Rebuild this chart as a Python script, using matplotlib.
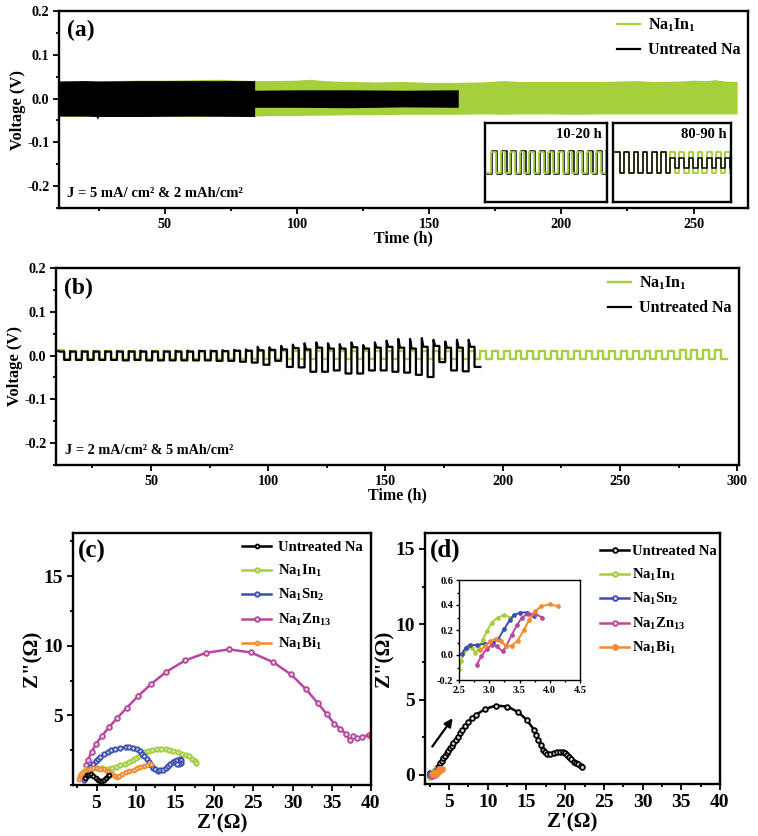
import matplotlib
matplotlib.use("Agg")
import matplotlib.pyplot as plt
from matplotlib.ticker import MultipleLocator

plt.rcParams['font.family'] = ['Liberation Serif', 'DejaVu Serif']
plt.rcParams['font.weight'] = 'bold'
plt.rcParams['axes.labelweight'] = 'bold'
plt.rcParams['mathtext.fontset'] = 'custom'
plt.rcParams['mathtext.bf'] = 'Liberation Serif:bold'
plt.rcParams['mathtext.rm'] = 'Liberation Serif:bold'
plt.rcParams['mathtext.default'] = 'bf'

W, H = 758, 836
GREEN = '#A5CF3B'
BLUE = '#3B50B0'
MAGENTA = '#B8479F'
ORANGE = '#F58A2E'
BLACK = '#000000'

# panel a, envelope of the cycling band
a_green_t = [10, 20, 30, 40, 50, 60, 70, 80, 84, 90, 100, 105, 110, 120, 130, 140, 150, 160, 170, 178, 185, 195, 205, 215, 228, 235, 245, 250, 255, 258, 262, 266.5]
a_green_top = [.040, .041, .041, .042, .042, .043, .044, .042, .041, .041, .042, .044, .041, .039, .038, .039, .037, .037, .038, .041, .039, .039, .039, .039, .041, .039, .040, .042, .041, .043, .040, .039]
a_green_bot = [-.040, -.041, -.040, -.041, -.040, -.041, -.040, -.040, -.040, -.039, -.039, -.038, -.038, -.037, -.037, -.036, -.036, -.036, -.035, -.036, -.035, -.035, -.036, -.035, -.035, -.035, -.035, -.035, -.035, -.035, -.035, -.035]
a_black_t = [10, 20, 24, 24.5, 25, 40, 60, 84, 84, 100, 120, 140, 161]
a_black_top = [.040, .041, .040, .040, .040, .041, .041, .041, .019, .020, .020, .019, .020]
a_black_bot = [-.040, -.040, -.041, -.047, -.041, -.041, -.040, -.041, -.020, -.020, -.021, -.019, -.020]

# panel a, insets (half cycle edges and voltages)
ins1_t = [10.0, 10.4, 10.8, 11.2, 11.6, 12.0, 12.4, 12.8, 13.2, 13.6, 14.0, 14.4, 14.8, 15.2, 15.6, 16.0, 16.4, 16.8, 17.2, 17.6, 18.0, 18.4, 18.8, 19.2, 19.6, 20.0]
ins1_green = [-.04, .04, -.04, .04, -.04, .04, -.04, .04, -.04, .04, -.04, .04, -.04, .04, -.04, .04, -.04, .04, -.04, .04, -.04, .04, -.04, .04, -.04, .04]
ins1_black_t = [10.1, 10.5, 10.9, 11.3, 11.7, 12.1, 12.5, 12.9, 13.3, 13.7, 14.1, 14.5, 14.9, 15.3, 15.7, 16.1, 16.5, 16.9, 17.3, 17.7, 18.1, 18.5, 18.9, 19.3, 19.7, 20.0]
ins1_black = [-.043, .041, -.043, .041, -.043, .041, -.043, .041, -.043, .041, -.043, .041, -.043, .041, -.043, .041, -.043, .041, -.043, .041, -.043, .041, -.043, .041, -.043, .041]
ins2_t = [80.0, 80.4, 80.8, 81.2, 81.6, 82.0, 82.4, 82.8, 83.2, 83.6, 84.0, 84.4, 84.8, 85.2, 85.6, 86.0, 86.4, 86.8, 87.2, 87.6, 88.0, 88.4, 88.8, 89.2, 89.6, 90.0]
ins2_green = [.04, -.04, .04, -.04, .04, -.04, .04, -.04, .04, -.04, .04, -.04, .04, -.04, .04, -.04, .04, -.04, .04, -.04, .04, -.04, .04, -.04, .04, -.04]
ins2_black = [.04, -.04, .04, -.04, .04, -.04, .04, -.04, .04, -.04, .04, -.04, .018, -.02, .018, -.02, .018, -.02, .018, -.02, .018, -.02, .018, -.02, .018, -.02]

# panel b, one entry per cycle
b_black_start = [10.5, 15.5, 20.5, 25.5, 30.5, 35.5, 40.5, 45.5, 50.5, 55.5, 60.5, 65.5, 70.5, 75.5, 80.5, 85.5, 90.5, 95.5, 100.5, 105.5, 110.5, 115.5, 120.5, 125.5, 130.5, 135.5, 140.5, 145.5, 150.5, 155.5, 160.5, 165.5, 170.5, 175.5, 180.5, 185.5]
b_black_peak = [.010, .010, .010, .010, .010, .010, .010, .011, .010, .010, .011, .011, .011, .011, .012, .013, .014, .020, .019, .022, .025, .028, .030, .028, .026, .030, .024, .030, .034, .038, .038, .040, .036, .032, .036, .036]
b_black_high = [.009, .009, .009, .009, .009, .009, .009, .009, .009, .009, .009, .009, .010, .010, .010, .011, .011, .012, .013, .014, .017, .014, .018, .016, .016, .019, .016, .018, .020, .018, .016, .020, .022, .018, .018, .020]
b_black_low = [-.010, -.010, -.010, -.010, -.010, -.011, -.010, -.011, -.011, -.011, -.011, -.011, -.011, -.012, -.012, -.014, -.016, -.021, -.012, -.026, -.027, -.037, -.037, -.034, -.041, -.041, -.034, -.034, -.037, -.039, -.044, -.049, -.015, -.034, -.036, -.026]
b_green_start = [10.5, 15.5, 20.5, 25.5, 30.5, 35.5, 40.5, 45.5, 50.5, 55.5, 60.5, 65.5, 70.5, 75.5, 80.5, 85.5, 90.5, 95.5, 100.5, 105.5, 110.5, 115.5, 120.5, 125.5, 130.5, 135.5, 140.5, 145.5, 150.5, 155.5, 160.5, 165.5, 170.5, 175.5, 180.5, 185.5, 190.5, 195.5, 200.5, 205.5, 210.5, 215.5, 220.5, 225.5, 230.5, 235.5, 240.5, 245.5, 250.5, 255.5, 260.5, 265.5, 270.5, 275.5, 280.5, 285.5, 290.5]
b_green_high = [.012, .011, .011, .011, .011, .011, .011, .011, .011, .011, .011, .011, .011, .011, .011, .011, .011, .011, .011, .011, .011, .011, .011, .011, .011, .011, .011, .011, .011, .011, .011, .011, .011, .011, .011, .011, .011, .011, .011, .011, .011, .011, .011, .011, .011, .011, .011, .011, .011, .011, .011, .011, .011, .012, .012, .012, .012]
b_green_low = [-.009, -.009, -.009, -.009, -.009, -.009, -.009, -.009, -.009, -.009, -.009, -.009, -.009, -.009, -.009, -.009, -.009, -.009, -.009, -.009, -.009, -.009, -.009, -.009, -.009, -.009, -.009, -.009, -.009, -.009, -.009, -.009, -.009, -.009, -.009, -.009, -.009, -.009, -.009, -.009, -.009, -.009, -.009, -.009, -.009, -.009, -.009, -.009, -.009, -.009, -.009, -.009, -.009, -.009, -.009, -.009, -.009]

# panel c, Nyquist curves
c_black_x = [3.5, 3.8, 4.0, 4.3, 4.6, 4.9, 5.2, 5.4, 5.7, 5.9, 6.2, 6.4, 6.55]
c_black_y = [.50, .70, .74, .77, .66, .53, .38, .29, .28, .33, .50, .62, .70]
c_green_x = [3.6, 4.1, 4.6, 5.1, 5.7, 6.4, 7.0, 7.5, 8.05, 8.6, 9.1, 9.6, 10.0, 10.4, 10.8, 11.2, 11.6, 12.1, 12.7, 13.2, 13.8, 14.3, 14.8, 15.4, 15.9, 16.4, 16.8, 17.2, 17.5, 17.7]
c_green_y = [1.15, 1.2, 1.22, 1.22, 1.2, 1.17, 1.22, 1.31, 1.41, 1.53, 1.65, 1.8, 1.96, 2.1, 2.25, 2.35, 2.44, 2.5, 2.56, 2.57, 2.56, 2.52, 2.44, 2.35, 2.25, 2.16, 2.06, 1.9, 1.7, 1.58]
c_blue_x = [3.4, 3.6, 3.8, 4.0, 4.2, 4.5, 4.9, 5.2, 5.5, 6.0, 6.4, 6.9, 7.4, 8.0, 8.7, 9.2, 9.7, 10.1, 10.5, 10.8, 11.1, 11.4, 11.65, 11.9, 12.2, 12.5, 12.8, 13.1, 13.5, 13.8, 14.1, 14.4, 14.75, 15.0, 15.3, 15.6, 15.8, 15.75, 15.5, 15.25]
c_blue_y = [.38, .58, .77, 1.05, 1.29, 1.5, 1.7, 1.85, 2.0, 2.2, 2.37, 2.5, 2.6, 2.68, 2.73, 2.7, 2.66, 2.55, 2.44, 2.25, 2.06, 1.85, 1.65, 1.45, 1.24, 1.12, 1.03, 1.05, 1.1, 1.22, 1.36, 1.5, 1.65, 1.75, 1.82, 1.84, 1.77, 1.58, 1.5, 1.48]
c_magenta_x = [3.64, 3.94, 4.36, 4.96, 5.68, 6.61, 7.67, 8.86, 10.3, 12.0, 13.9, 16.3, 19.0, 21.9, 24.7, 27.5, 29.8, 31.7, 33.2, 34.4, 35.3, 36.1, 36.8, 37.3, 37.7, 38.2, 38.9, 39.7, 40.0]
c_magenta_y = [1.41, 1.82, 2.37, 2.97, 3.52, 4.16, 4.83, 5.55, 6.39, 7.27, 8.13, 8.95, 9.5, 9.74, 9.52, 8.83, 7.94, 6.89, 5.89, 5.07, 4.4, 4.04, 3.66, 3.21, 3.5, 3.4, 3.44, 3.6, 3.5]
c_orange_x = [2.75, 2.9, 3.05, 3.3, 3.6, 3.9, 4.2, 4.6, 5.1, 5.5, 5.9, 6.3, 6.6, 6.95, 7.3, 7.6, 7.85, 8.3, 8.7, 9.2, 9.75, 10.2, 10.6, 11.0, 11.4, 11.9]
c_orange_y = [.45, .62, .77, .9, 1.0, 1.1, 1.17, 1.2, 1.22, 1.18, 1.12, 1.03, .93, .78, .62, .6, .62, .76, .9, 1.0, 1.1, 1.2, 1.29, 1.35, 1.41, 1.48]

# panel d, Nyquist curves (small ones also used for the inset)
d_black_x = [2.5, 3.0, 3.4, 3.6, 3.84, 4.05, 4.27, 4.5, 4.7, 4.9, 5.13, 5.35, 5.56, 5.85, 6.12, 6.4, 6.72, 7.1, 7.5, 8.0, 8.5, 9.66, 11.08, 12.54, 13.97, 15.04, 15.99, 16.3, 16.55, 16.85, 17.1, 17.35, 17.63, 18.05, 18.5, 18.9, 19.35, 19.7, 20.0, 20.3, 20.56, 20.8, 21.08, 21.4, 21.7, 22.0, 22.2]
d_black_y = [.10, .2, .33, .55, .77, .93, 1.1, 1.27, 1.44, 1.6, 1.77, 1.93, 2.1, 2.32, 2.54, 2.76, 2.99, 3.25, 3.5, 3.75, 3.98, 4.38, 4.6, 4.54, 4.16, 3.65, 2.99, 2.65, 2.32, 1.98, 1.66, 1.5, 1.39, 1.42, 1.48, 1.52, 1.55, 1.53, 1.48, 1.35, 1.17, 1.03, .88, .78, .71, .62, .55]
d_green_x = [2.5, 2.54, 2.59, 2.64, 2.71, 2.77, 2.83, 2.89, 2.96, 3.04, 3.14, 3.25, 3.35]
d_green_y = [-.11, -.05, .03, .06, .06, .02, .05, .12, .19, .26, .30, .32, .30]
d_blue_x = [2.55, 2.61, 2.68, 2.79, 2.93, 3.07, 3.15, 3.25, 3.34, 3.41, 3.51, 3.63, 3.74]
d_blue_y = [.01, .06, .08, .08, .09, .10, .13, .21, .28, .32, .34, .34, .31]
d_magenta_x = [2.79, 2.87, 2.96, 3.04, 3.12, 3.22, 3.28, 3.37, 3.46, 3.54, 3.64, 3.75, 3.88]
d_magenta_y = [-.08, -.01, .05, .08, .07, .03, .07, .16, .24, .30, .33, .33, .30]
d_orange_x = [2.85, 2.93, 3.01, 3.11, 3.19, 3.28, 3.37, 3.47, 3.57, 3.66, 3.76, 3.86, 4.0, 4.14]
d_orange_y = [.04, .07, .11, .13, .11, .07, .075, .115, .20, .28, .35, .39, .405, .39]

untreated = 'Untreated Na'
na_in = r'Na$_{1}$In$_{1}$'
na_sn = r'Na$_{1}$Sn$_{2}$'
na_zn = r'Na$_{1}$Zn$_{13}$'
na_bi = r'Na$_{1}$Bi$_{1}$'


def make_axes(fig, left, top, right, bottom):
    ax = fig.add_axes([left / W, 1 - bottom / H, (right - left) / W, (bottom - top) / H])
    for s in ax.spines.values():
        s.set_linewidth(1.7)
    return ax


def cycle_curve(start, high, low, peak=None):
    xs, ys = [], []
    for i, t in enumerate(start):
        p = high[i] if peak is None else peak[i]
        xs += [t, t + 0.7, t + 2.5, t + 2.5, t + 5]
        ys += [p, high[i], high[i], low[i], low[i]]
    return xs, ys


def put_legend(ax, handles, labels, left, top, size, hlen, pad, space):
    ax.legend(handles, labels, loc='upper left', bbox_to_anchor=(left / W, 1 - top / H),
              bbox_transform=fig.transFigure, frameon=False, fontsize=size, borderpad=0,
              borderaxespad=0, handlelength=hlen, handletextpad=pad, labelspacing=space)


fig = plt.figure(figsize=(W / 100, H / 100), dpi=100)

# (a)
ax = make_axes(fig, 59, 11, 748, 208)
ax.fill_between(a_green_t, a_green_bot, a_green_top, color=GREEN, lw=0)
ax.fill_between(a_black_t, a_black_bot, a_black_top, color=BLACK, lw=0)
g_line, = ax.plot([], [], color=GREEN, lw=1.6)
k_line, = ax.plot([], [], color=BLACK, lw=1.6)
ax.set_xlim(10, 270.6)
ax.set_ylim(-.25, .2)
ax.set_xticks([50, 100, 150, 200, 250])
ax.set_yticks([-.2, -.1, 0, .1, .2])
ax.set_yticklabels(['-0.2', '-0.1', '0.0', '0.1', '0.2'])
ax.xaxis.set_minor_locator(MultipleLocator(25))
ax.yaxis.set_minor_locator(MultipleLocator(.05))
ax.tick_params(labelsize=10.2, width=1.3, length=4, pad=3)
ax.tick_params(which='minor', width=1.3, length=2.5)
ax.set_xlabel('Time (h)', fontsize=11.5, labelpad=0)
ax.set_ylabel('Voltage (V)', fontsize=12, labelpad=0.5)
ax.text(13, .155, '(a)', fontsize=17, va='center')
ax.text(13, -.218, 'J = 5 mA/ cm² & 2 mAh/cm²', fontsize=10.5, va='center')
put_legend(ax, [g_line, k_line], [na_in, untreated], 617, 17, 11.5, 1.45, .5, .5)

ins = make_axes(fig, 485, 123, 607, 202)
ins.step(ins1_black_t, ins1_black, where='post', color=BLACK, lw=1.1)
ins.step(ins1_t, ins1_green, where='post', color=GREEN, lw=1.3)
ins.set_xlim(9.9, 20.1)
ins.set_ylim(-.146, .146)
ins.set_xticks([])
ins.set_yticks([])
ins.text(.96, .85, '10-20 h', transform=ins.transAxes, ha='right', va='center', fontsize=10.5)

ins = make_axes(fig, 613, 123, 731, 202)
ins.step(ins2_t, ins2_green, where='post', color=GREEN, lw=1.3)
ins.step(ins2_t, ins2_black, where='post', color=BLACK, lw=1.1)
ins.set_xlim(79.8, 90.1)
ins.set_ylim(-.146, .146)
ins.set_xticks([])
ins.set_yticks([])
ins.text(.96, .85, '80-90 h', transform=ins.transAxes, ha='right', va='center', fontsize=10.5)

# (b)
ax = make_axes(fig, 56, 268, 739, 465)
gx, gy = cycle_curve(b_green_start, b_green_high, b_green_low)
bx, by = cycle_curve(b_black_start, b_black_high, b_black_low, b_black_peak)
g_line, = ax.plot(gx, gy, color=GREEN, lw=1.7)
k_line, = ax.plot(bx, by, color=BLACK, lw=1.6)
ax.set_xlim(9.5, 300.8)
ax.set_ylim(-.25, .2)
ax.set_xticks([50, 100, 150, 200, 250, 300])
ax.set_yticks([-.2, -.1, 0, .1, .2])
ax.set_yticklabels(['-0.2', '-0.1', '0.0', '0.1', '0.2'])
ax.xaxis.set_minor_locator(MultipleLocator(25))
ax.yaxis.set_minor_locator(MultipleLocator(.05))
ax.tick_params(labelsize=10.2, width=1.3, length=4, pad=3)
ax.tick_params(which='minor', width=1.3, length=2.5)
ax.set_xlabel('Time (h)', fontsize=11.5, labelpad=0)
ax.set_ylabel('Voltage (V)', fontsize=12, labelpad=0.5)
ax.text(13, .153, '(b)', fontsize=17, va='center')
ax.text(13.5, -.218, 'J = 2 mA/cm² & 5 mAh/cm²', fontsize=10.3, va='center')
put_legend(ax, [g_line, k_line], [na_in, untreated], 608, 275, 11.5, 1.45, .5, .5)


def nyquist(ax, x, y, color, label, ms=3.4):
    ax.plot(x, y, color=color, lw=1.8, marker='o', ms=ms, mfc='#DDDDDD', mec=color, mew=1.3,
            label=label)


# (c)
ax = make_axes(fig, 73, 533, 371, 785)
nyquist(ax, c_magenta_x, c_magenta_y, MAGENTA, na_zn)
nyquist(ax, c_green_x, c_green_y, GREEN, na_in, 3.2)
nyquist(ax, c_blue_x, c_blue_y, BLUE, na_sn, 3.2)
nyquist(ax, c_orange_x, c_orange_y, ORANGE, na_bi, 2.8)
nyquist(ax, c_black_x, c_black_y, BLACK, untreated, 2.8)
ax.set_xlim(2, 40)
ax.set_ylim(0, 18.1)
ax.set_xticks([5, 10, 15, 20, 25, 30, 35, 40])
ax.set_yticks([5, 10, 15])
ax.xaxis.set_minor_locator(MultipleLocator(2.5))
ax.yaxis.set_minor_locator(MultipleLocator(2.5))
ax.tick_params(labelsize=14, width=1.3, length=4, pad=3)
ax.tick_params(which='minor', width=1.3, length=2.5)
ax.set_xlabel("Z'(Ω)", fontsize=15, labelpad=1)
ax.set_ylabel('Z"(Ω)', fontsize=15, labelpad=1)
ax.text(.018, .925, '(c)', transform=ax.transAxes, fontsize=18, va='center')
h, l = ax.get_legend_handles_labels()
order = [4, 1, 2, 0, 3]
put_legend(ax, [h[i] for i in order], [l[i] for i in order], 242, 541, 10.5, 2.0, .5, .58)

# (d)
ax = make_axes(fig, 425, 533, 720, 784)
nyquist(ax, d_black_x, d_black_y, BLACK, untreated, 3.4)
nyquist(ax, d_green_x, d_green_y, GREEN, na_in)
nyquist(ax, d_blue_x, d_blue_y, BLUE, na_sn)
nyquist(ax, d_magenta_x, d_magenta_y, MAGENTA, na_zn)
ax.plot(d_orange_x, d_orange_y, color=ORANGE, lw=1.8, marker='o', ms=3.8, label=na_bi)
ax.set_xlim(1.9, 40)
ax.set_ylim(-.6, 16.05)
ax.set_xticks([5, 10, 15, 20, 25, 30, 35, 40])
ax.set_yticks([0, 5, 10, 15])
ax.xaxis.set_minor_locator(MultipleLocator(2.5))
ax.yaxis.set_minor_locator(MultipleLocator(2.5))
ax.tick_params(labelsize=14, width=1.3, length=4, pad=3)
ax.tick_params(which='minor', width=1.3, length=2.5)
ax.set_xlabel("Z'(Ω)", fontsize=15, labelpad=1)
ax.set_ylabel('Z"(Ω)', fontsize=15, labelpad=1)
ax.text(.018, .93, '(d)', transform=ax.transAxes, fontsize=18, va='center')
ax.annotate('', xy=(5.47, 3.76), xytext=(2.84, 1.88),
            arrowprops=dict(arrowstyle='-|>', color=BLACK, lw=1.6, mutation_scale=12, shrinkA=0, shrinkB=0))
h, l = ax.get_legend_handles_labels()
put_legend(ax, h, l, 600, 545, 10.5, 2.0, .2, .58)

ins = make_axes(fig, 459, 580, 580, 680)
for s in ins.spines.values():
    s.set_linewidth(1.0)
for x, y, c in [(d_green_x, d_green_y, GREEN), (d_blue_x, d_blue_y, BLUE),
                (d_magenta_x, d_magenta_y, MAGENTA), (d_orange_x, d_orange_y, ORANGE)]:
    ins.plot(x, y, color=c, lw=1.4, marker='o', ms=2.4)
ins.set_xlim(2.5, 4.5)
ins.set_ylim(-.2, .6)
ins.set_xticks([2.5, 3.0, 3.5, 4.0, 4.5])
ins.set_yticks([-.2, 0, .2, .4, .6])
ins.set_yticklabels(['-0.2', '0.0', '0.2', '0.4', '0.6'])
ins.xaxis.set_minor_locator(MultipleLocator(.25))
ins.yaxis.set_minor_locator(MultipleLocator(.1))
ins.tick_params(labelsize=7.5, width=1, length=2.5, pad=1.5)
ins.tick_params(which='minor', width=1, length=1.5)

fig.savefig('out.png', dpi=100)
